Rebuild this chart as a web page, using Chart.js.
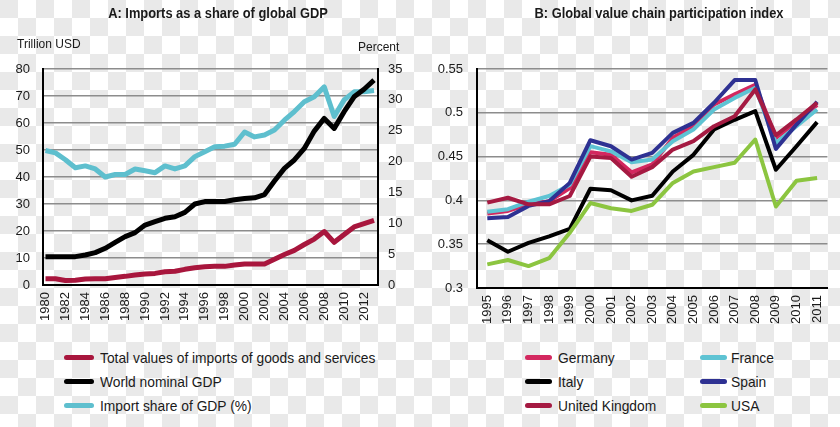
<!DOCTYPE html>
<html>
<head>
<meta charset="utf-8">
<script src="https://cdn.jsdelivr.net/npm/chart.js@4.4.1/dist/chart.umd.min.js"></script>
<style>
    html, body {
        margin: 0;
        padding: 0;
        width: 840px;
        height: 427px;
        overflow: hidden;
    }
    body {
        position: relative;
        background-color: #fff;
        background-image: conic-gradient(#fff 0 25%, #e9e9e9 0 50%, #fff 0 75%, #e9e9e9 0);
        background-size: 36px 36px;
        font-family: 'Liberation Sans', Arial, sans-serif;
        color: #1a1a1a;
    }
    canvas { position: absolute; top: 0; }
    #chartA { left: 0; }
    #chartB { left: 420px; }
    .title {
        position: absolute;
        top: 5px;
        font: bold 14px 'Liberation Sans', sans-serif;
        white-space: nowrap;
        transform: translateX(-50%) scaleX(0.92);
    }
    .axis-label {
        position: absolute;
        font-size: 12px;
        white-space: nowrap;
    }
    .legend-item {
        position: absolute;
        height: 18px;
        line-height: 18px;
        font: 15px 'Liberation Sans', sans-serif;
        white-space: nowrap;
    }
    .legend-item .swatch {
        position: absolute;
        top: 6px;
        height: 5px;
        border-radius: 3px;
    }
    .legend-item .text {
        display: inline-block;
        transform: scaleX(0.92);
        transform-origin: left center;
    }
</style>
</head>
<body>

<canvas id="chartA" width="420" height="340"></canvas>
<canvas id="chartB" width="420" height="340"></canvas>

<div class="title" style="left:218px">A: Imports as a share of global GDP</div>
<div class="title" style="left:659px">B: Global value chain participation index</div>
<div class="axis-label" style="left:17px; top:37px">Trillion USD</div>
<div class="axis-label" style="left:358px; top:40px">Percent</div>

<div id="legendA"></div>
<div id="legendB"></div>

<script>
// Panel A: years and values (trillion USD, import share in percent)
const yearsA = [1980, 1981, 1982, 1983, 1984, 1985, 1986, 1987, 1988, 1989,
    1990, 1991, 1992, 1993, 1994, 1995, 1996, 1997, 1998, 1999,
    2000, 2001, 2002, 2003, 2004, 2005, 2006, 2007, 2008, 2009,
    2010, 2011, 2012, 2013];
const tickYearsA = [1980, 1982, 1984, 1986, 1988, 1990, 1992, 1994, 1996, 1998,
    2000, 2002, 2004, 2006, 2008, 2010, 2012];
const importsTotal = [2.3, 2.3, 1.7, 1.8, 2.2, 2.3, 2.3, 2.8, 3.2, 3.7,
    4.1, 4.3, 4.9, 5.1, 5.8, 6.4, 6.8, 6.9, 6.9, 7.4,
    7.8, 7.8, 7.8, 9.5, 11.3, 12.8, 15.0, 17.0, 19.8, 15.8,
    18.7, 21.5, 22.7, 23.9];
const worldGdp = [10.5, 10.5, 10.5, 10.5, 11.1, 12.0, 13.6, 15.8, 17.9, 19.4,
    22.2, 23.5, 24.7, 25.3, 26.9, 30.0, 30.9, 30.9, 30.9, 31.6,
    32.0, 32.3, 33.5, 38.5, 43.2, 46.3, 50.6, 57.0, 61.7, 58.0,
    64.2, 69.7, 72.5, 75.9];
const importShare = [21.8, 21.4, 20.3, 19.0, 19.3, 18.8, 17.5, 17.9, 17.9, 18.8,
    18.5, 18.2, 19.3, 18.8, 19.3, 20.8, 21.6, 22.4, 22.5, 22.8,
    24.8, 24.0, 24.3, 25.1, 26.7, 28.1, 29.7, 30.5, 32.1, 27.3,
    30.0, 31.3, 31.3, 31.5];

// Panel B: GVC participation index
const yearsB = ['1995', '1996', '1997', '1998', '1999', '2000', '2001', '2002', '2003',
    '2004', '2005', '2006', '2007', '2008', '2009', '2010', '2011'];
const germany = [0.385, 0.388, 0.3955, 0.399, 0.414, 0.455, 0.452, 0.432, 0.441,
    0.4714, 0.4847, 0.5095, 0.521, 0.532, 0.4714, 0.490, 0.509];
const france = [0.387, 0.390, 0.3985, 0.405, 0.418, 0.462, 0.456, 0.4435, 0.4466,
    0.4676, 0.481, 0.5038, 0.517, 0.5286, 0.4656, 0.4847, 0.5038];
const italy = [0.3545, 0.3414, 0.3515, 0.359, 0.3675, 0.4133, 0.4115, 0.400, 0.4053,
    0.433, 0.452, 0.481, 0.492, 0.502, 0.435, 0.4618, 0.4893];
const spain = [0.3795, 0.381, 0.3937, 0.399, 0.420, 0.4687, 0.4618, 0.4466, 0.4542,
    0.4771, 0.4885, 0.5115, 0.5374, 0.5374, 0.4588, 0.4866, 0.5126];
const unitedKingdom = [0.3974, 0.403, 0.3955, 0.3955, 0.405, 0.450, 0.4485, 0.427, 0.438,
    0.458, 0.4676, 0.4847, 0.496, 0.5267, 0.4744, 0.4924, 0.5114];
const usa = [0.327, 0.332, 0.325, 0.334, 0.363, 0.397, 0.391, 0.388, 0.395,
    0.420, 0.433, 0.438, 0.443, 0.4695, 0.393, 0.4225, 0.4256];

const colors = {
    imports: '#a8163d',
    gdp: '#000000',
    share: '#5ebfce',
    germany: '#d3285f',
    france: '#5ec3d3',
    italy: '#000000',
    spain: '#2e3192',
    uk: '#a51a42',
    usa: '#8cc540'
};

const tickFont = { family: "'Liberation Sans', Arial, sans-serif", size: 13 };
const gridGray = '#8c8c8c';

Chart.defaults.color = '#1a1a1a';
Chart.defaults.animation = false;

function buildLegend(containerId, items) {
    const box = document.getElementById(containerId);
    items.forEach(it => {
        const el = document.createElement('div');
        el.className = 'legend-item';
        el.style.left = it.x + 'px';
        el.style.top = (it.y - 9) + 'px';
        el.style.paddingLeft = it.textOffset + 'px';
        el.innerHTML = `<span class="swatch" style="left:0;width:${it.w}px;background:${it.color}"></span><span class="text">${it.label}</span>`;
        box.appendChild(el);
    });
}

// --- Panel A ---
const pts = (vals) => yearsA.map((yr, i) => ({ x: yr, y: vals[i] }));

new Chart(document.getElementById('chartA'), {
    type: 'line',
    data: {
        datasets: [
            { label: 'World nominal GDP', data: pts(worldGdp), borderColor: colors.gdp, yAxisID: 'y', order: 0 },
            { label: 'Import share of GDP (%)', data: pts(importShare), borderColor: colors.share, yAxisID: 'y1', order: 1 },
            { label: 'Total values of imports of goods and services', data: pts(importsTotal), borderColor: colors.imports, yAxisID: 'y', order: 2 }
        ]
    },
    options: {
        responsive: false,
        layout: { padding: { top: 69, left: 0, right: 0, bottom: 0 } },
        elements: {
            line: { borderWidth: 5, tension: 0, borderJoinStyle: 'round', borderCapStyle: 'butt' },
            point: { radius: 0 }
        },
        plugins: { legend: { display: false }, tooltip: { enabled: false } },
        scales: {
            x: {
                type: 'linear',
                min: 1979.75,
                max: 2013.4,
                afterBuildTicks: axis => { axis.ticks = tickYearsA.map(v => ({ value: v })); },
                afterFit: axis => { axis.height = 55; },
                grid: { display: false, drawTicks: false },
                border: { color: '#000', width: 2 },
                ticks: {
                    font: tickFont,
                    minRotation: 90,
                    maxRotation: 90,
                    autoSkip: false,
                    padding: 7,
                    callback: v => String(v)
                }
            },
            y: {
                position: 'left',
                min: 0,
                max: 80,
                afterFit: axis => { axis.width = 43; },
                grid: {
                    drawTicks: false,
                    lineWidth: 1.5,
                    color: ctx => ctx.index === 0 ? 'rgba(0,0,0,0)' : gridGray
                },
                border: { color: '#000', width: 2 },
                ticks: { font: tickFont, stepSize: 10, padding: 13 }
            },
            y1: {
                position: 'right',
                min: 0,
                max: 35,
                afterFit: axis => { axis.width = 42; },
                grid: { display: false, drawTicks: false },
                border: { color: '#000', width: 2 },
                ticks: { font: tickFont, stepSize: 5, padding: 10 }
            }
        }
    }
});

// --- Panel B ---
new Chart(document.getElementById('chartB'), {
    type: 'line',
    data: {
        labels: yearsB,
        datasets: [
            { label: 'Germany', data: germany, borderColor: colors.germany, order: 5 },
            { label: 'France', data: france, borderColor: colors.france, order: 4 },
            { label: 'Italy', data: italy, borderColor: colors.italy, order: 3 },
            { label: 'Spain', data: spain, borderColor: colors.spain, order: 2 },
            { label: 'United Kingdom', data: unitedKingdom, borderColor: colors.uk, order: 1 },
            { label: 'USA', data: usa, borderColor: colors.usa, order: 0 }
        ]
    },
    options: {
        responsive: false,
        layout: { padding: { top: 69, left: 0, right: 10, bottom: 0 } },
        elements: {
            line: { borderWidth: 4, tension: 0, borderJoinStyle: 'round', borderCapStyle: 'butt' },
            point: { radius: 0 }
        },
        plugins: { legend: { display: false }, tooltip: { enabled: false } },
        scales: {
            x: {
                offset: true,
                afterFit: axis => { axis.height = 52; },
                grid: { display: false, drawTicks: false },
                border: { color: '#000', width: 2 },
                ticks: {
                    font: tickFont,
                    minRotation: 90,
                    maxRotation: 90,
                    autoSkip: false,
                    padding: 7
                }
            },
            y: {
                min: 0.3,
                max: 0.55,
                afterFit: axis => { axis.width = 57; },
                grid: {
                    drawTicks: false,
                    lineWidth: 1.5,
                    color: ctx => ctx.index === 0 ? 'rgba(0,0,0,0)' : gridGray
                },
                border: { color: '#000', width: 2 },
                ticks: {
                    font: tickFont,
                    stepSize: 0.05,
                    padding: 14,
                    callback: v => String(+v.toFixed(2))
                }
            }
        }
    }
});

buildLegend('legendA', [
    { x: 64, y: 358, w: 30, textOffset: 36, color: colors.imports, label: 'Total values of imports of goods and services' },
    { x: 64, y: 382, w: 30, textOffset: 36, color: colors.gdp, label: 'World nominal GDP' },
    { x: 64, y: 406, w: 30, textOffset: 36, color: colors.share, label: 'Import share of GDP (%)' }
]);

buildLegend('legendB', [
    { x: 525, y: 358, w: 27, textOffset: 33, color: colors.germany, label: 'Germany' },
    { x: 700, y: 358, w: 27, textOffset: 31, color: colors.france, label: 'France' },
    { x: 525, y: 382, w: 27, textOffset: 33, color: colors.italy, label: 'Italy' },
    { x: 700, y: 382, w: 27, textOffset: 31, color: colors.spain, label: 'Spain' },
    { x: 525, y: 406, w: 27, textOffset: 33, color: colors.uk, label: 'United Kingdom' },
    { x: 700, y: 406, w: 27, textOffset: 31, color: colors.usa, label: 'USA' }
]);
</script>
</body>
</html>
